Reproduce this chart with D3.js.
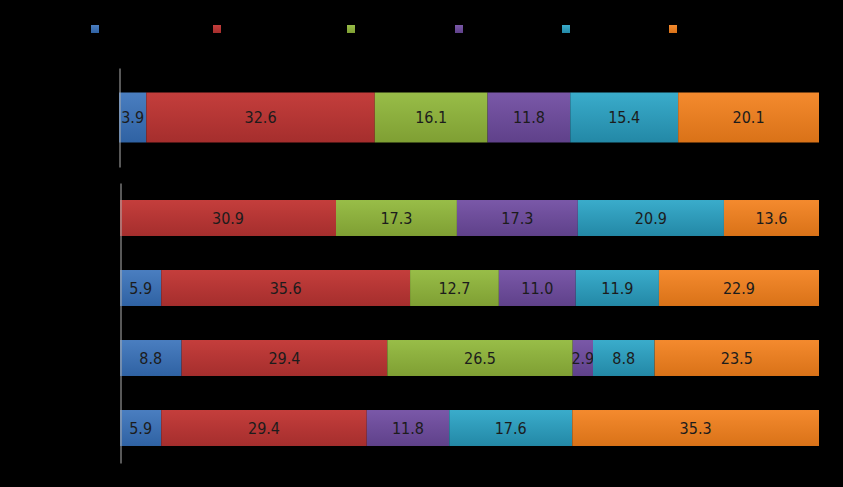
<!DOCTYPE html>
<html><head><meta charset="utf-8">
<script src="https://cdn.jsdelivr.net/npm/d3@7"></script>
<style>html,body{margin:0;padding:0;background:#000;}svg{display:block;}</style>
</head><body><svg id="c" width="843" height="487"></svg>
<script>
const seriesNames = ["Series 1","Series 2","Series 3","Series 4","Series 5","Series 6"];
const seriesColors = ["#4a7ec0","#c43e3c","#98bd48","#7a58a8","#3aaccb","#f48a2e"];
const seriesDark   = ["#2f62a3","#a52e2d","#7f9f33","#5f418a","#2388a6","#d97218"];
// top chart
const topCategories = ["Total"];
const topValues = [[3.9, 32.6, 16.1, 11.8, 15.4, 20.1]];
// bottom chart
const bottomCategories = ["Group A","Group B","Group C","Group D"];
const bottomValues = [
  [0,   30.9, 17.3, 17.3, 20.9, 13.6],
  [5.9, 35.6, 12.7, 11.0, 11.9, 22.9],
  [8.8, 29.4, 26.5, 2.9,  8.8,  23.5],
  [5.9, 29.4, 0,    11.8, 17.6, 35.3]
];

const svg = d3.select("#c");
const defs = svg.append("defs");
seriesColors.forEach((c,i)=>{
  const g = defs.append("linearGradient").attr("id","g"+i).attr("x1",0).attr("x2",0).attr("y1",0).attr("y2",1);
  g.append("stop").attr("offset","0%").attr("stop-color",c);
  g.append("stop").attr("offset","100%").attr("stop-color",seriesDark[i]);
});

// legend
const legendX = [91, 213, 347, 455, 562, 669];
const lg = svg.append("g");
seriesNames.forEach((n,i)=>{
  lg.append("rect").attr("x",legendX[i]).attr("y",25).attr("width",8).attr("height",8).attr("fill",`url(#g${i})`);
  lg.append("text").attr("x",legendX[i]+12).attr("y",32).attr("font-family","Liberation Sans, sans-serif")
    .attr("font-size",11).attr("fill","#000").text(n);
});

function drawChart(cats, vals, x0, x1, y0, y1, pad){
  const data = cats.map((c,ci)=>{const o={cat:c}; seriesNames.forEach((s,si)=>o[s]=vals[ci][si]); return o;});
  const stack = d3.stack().keys(seriesNames).offset(d3.stackOffsetExpand)(data);
  const x = d3.scaleLinear().domain([0,1]).range([x0,x1]);
  const y = d3.scaleBand().domain(cats).range([y0,y1]).paddingInner(pad).paddingOuter(pad/2);
  const g = svg.append("g");
  stack.forEach((layer,si)=>{
    layer.forEach((d,ci)=>{
      const v = vals[ci][si];
      if(v<=0) return;
      const xa = x(d[0]), xb = x(d[1]);
      g.append("rect").attr("x",xa).attr("y",y(cats[ci])).attr("width",xb-xa).attr("height",y.bandwidth())
        .attr("fill",`url(#g${si})`);
      g.append("text").attr("x",(xa+xb)/2).attr("y",y(cats[ci])+y.bandwidth()/2)
        .attr("text-anchor","middle").attr("dominant-baseline","central")
        .attr("font-family","'Liberation Sans Narrow','DejaVu Sans Condensed',sans-serif")
        .attr("font-size",16).attr("fill","#1c1c1c").text(v.toFixed(1));
    });
  });
  const ax = svg.append("g").attr("transform",`translate(${x0+0.5},0)`)
    .call(d3.axisLeft(y).tickSize(0).tickFormat(""));
  ax.select(".domain").attr("stroke","#b0b0b0").attr("stroke-width",1);
  // category labels (black, as in the original)
  cats.forEach(c=>{
    svg.append("text").attr("x",x0-8).attr("y",y(c)+y.bandwidth()/2).attr("text-anchor","end")
      .attr("dominant-baseline","central").attr("font-family","Liberation Sans, sans-serif")
      .attr("font-size",12).attr("fill","#000").text(c);
  });
}
drawChart(topCategories, topValues, 119, 819, 68, 167, 0.495);
drawChart(bottomCategories, bottomValues, 120, 819, 183, 463, 0.486);
</script></body></html>
